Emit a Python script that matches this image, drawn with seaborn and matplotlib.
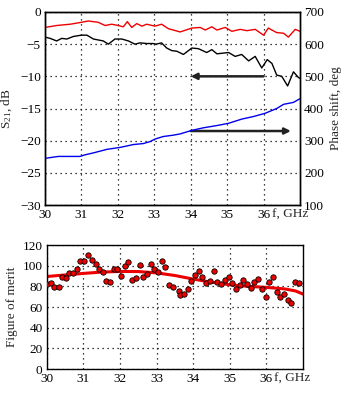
import numpy as np
import pandas as pd
import matplotlib
matplotlib.use("Agg")
import matplotlib.pyplot as plt
import matplotlib.transforms as mtransforms
import seaborn as sns

# Transmission (dB) of the two measured lines, left axis
f_red = [30.0, 30.32, 30.69, 31.0, 31.19, 31.46, 31.65, 31.83, 32.01, 32.15, 32.26, 32.38,
         32.52, 32.66, 32.79, 33.02, 33.2, 33.39, 33.52, 33.71, 34.03, 34.26, 34.4, 34.58,
         34.72, 34.95, 35.13, 35.36, 35.54, 35.77, 36.0, 36.13, 36.36, 36.55, 36.68, 36.87, 37.0]
s_red = [-2.4, -2.1, -1.9, -1.6, -1.4, -1.6, -2.1, -1.9, -2.1, -2.3, -1.5, -2.4,
         -1.8, -2.2, -1.9, -2.2, -1.9, -2.6, -2.8, -3.1, -2.5, -2.4, -2.8, -2.3,
         -2.8, -2.4, -3.0, -2.7, -2.9, -2.7, -3.6, -2.5, -3.2, -3.3, -3.9, -2.7, -3.0]

f_black = [30.0, 30.14, 30.32, 30.46, 30.6, 30.78, 31.0, 31.15, 31.33, 31.6, 31.74, 31.92,
           32.11, 32.29, 32.47, 32.61, 32.79, 32.97, 33.05, 33.2, 33.34, 33.48, 33.62, 33.8,
           34.03, 34.21, 34.44, 34.58, 34.72, 35.04, 35.22, 35.4, 35.59, 35.77, 35.95, 36.1,
           36.23, 36.36, 36.5, 36.66, 36.82, 36.96, 37.0]
s_black = [-3.9, -4.1, -4.5, -4.1, -4.2, -3.8, -3.6, -3.6, -4.2, -4.5, -5.0, -4.2,
           -4.2, -4.5, -5.0, -4.8, -4.9, -4.9, -5.0, -4.8, -5.6, -6.0, -6.1, -6.6,
           -5.6, -5.7, -6.3, -5.85, -6.5, -6.3, -6.9, -6.6, -7.6, -6.9, -8.7, -7.4,
           -8.0, -9.8, -10.0, -11.5, -9.3, -10.2, -10.3]

# Phase shift (deg), right axis
f_phase = [30.0, 30.18, 30.37, 30.96, 31.1, 31.33, 31.7, 32.06, 32.43, 32.7, 32.88, 33.02,
           33.25, 33.52, 33.71, 34.03, 34.35, 34.72, 35.04, 35.4, 35.72, 36.04, 36.36, 36.55,
           36.82, 36.96, 37.0]
phase = [245, 248, 251, 251, 256, 262, 273, 279, 288, 291, 297, 305,
         313, 317, 321, 332, 340, 347, 354, 367, 375, 385, 400, 413,
         419, 428, 430]

# Figure of merit: measured points and smoothed trend
f_fom = [30.02, 30.11, 30.21, 30.33, 30.42, 30.53, 30.62, 30.72, 30.83, 30.92, 31.02, 31.13,
         31.23, 31.34, 31.43, 31.53, 31.62, 31.73, 31.84, 31.92, 32.04, 32.13, 32.23, 32.33,
         32.44, 32.54, 32.63, 32.74, 32.85, 32.93, 33.04, 33.15, 33.24, 33.34, 33.45, 33.6,
         33.65, 33.75, 33.86, 33.95, 34.06, 34.16, 34.25, 34.36, 34.47, 34.57, 34.66, 34.77,
         34.86, 34.97, 35.07, 35.17, 35.27, 35.36, 35.47, 35.57, 35.67, 35.77, 35.88, 35.98,
         36.08, 36.17, 36.28, 36.38, 36.47, 36.58, 36.68, 36.78, 36.88]
fom = [82.3, 83.5, 79.7, 79.7, 88.8, 87.8, 93.2, 93.2, 96.5, 104.8, 104.8, 110.6,
       105.5, 101.6, 96.5, 94.2, 85.5, 83.9, 96.5, 96.8, 90.0, 99.7, 103.3, 85.9,
       88.1, 100.7, 89.4, 92.0, 101.4, 96.5, 93.6, 104.5, 99.0, 81.3, 79.0, 75.8,
       71.6, 72.6, 77.7, 85.5, 91.0, 94.9, 88.8, 83.0, 84.9, 95.2, 83.9, 82.3,
       86.2, 89.4, 83.5, 77.7, 81.3, 86.2, 82.3, 78.4, 84.2, 87.4, 77.2, 70.0,
       83.9, 88.8, 74.8, 70.0, 72.9, 66.8, 63.6, 84.2, 83.0]
f_trend = [30.0, 30.5, 31.0, 31.5, 32.0, 32.5, 33.0, 33.5, 34.0, 34.5, 35.0, 35.5,
           36.0, 36.5, 36.8, 37.0]
trend = [89.5, 91.0, 92.5, 93.8, 94.4, 94.3, 93.0, 90.5, 87.0, 84.0, 81.5, 80.0,
         79.0, 77.5, 75.5, 72.5]

x_ticks = [30, 31, 32, 33, 34, 35, 36]

sns.set_style("ticks")
plt.rcParams["font.family"] = ["Liberation Serif", "DejaVu Serif"]
plt.rcParams["mathtext.fontset"] = "custom"
plt.rcParams["mathtext.rm"] = "Liberation Serif"
plt.rcParams["mathtext.it"] = "Liberation Serif:italic"
plt.rcParams["font.size"] = 9.5

fig = plt.figure(figsize=(3.49, 3.95), dpi=100)
W, H = 349, 395
ax1 = fig.add_axes([45 / W, 1 - 205 / H, 255 / W, 193 / H])
ax2 = ax1.twinx()
ax3 = fig.add_axes([46.7 / W, 1 - 369 / H, 256.3 / W, 124 / H])

grid_kw = dict(color="black", linestyle=(0, (1, 3)), linewidth=0.9)

def style_axes(ax):
    for sp in ax.spines.values():
        sp.set_color("black")
        sp.set_linewidth(1.0)
    ax.tick_params(length=0, pad=3, labelsize=9.5, colors="black")

def unit_label(ax, x, y):
    # frequency unit written just after the last tick label, below the axis
    shift = mtransforms.ScaledTranslation(0, -3 / 72, fig.dpi_scale_trans)
    ax.text(x, y, "f, GHz", ha="left", va="top", fontsize=9.5,
            transform=ax.transData + shift, clip_on=False)

# --- upper panel ---
sns.lineplot(x=f_red, y=s_red, ax=ax1, color="#ee0000", linewidth=1.0, sort=False)
sns.lineplot(x=f_black, y=s_black, ax=ax1, color="black", linewidth=1.0, sort=False)
sns.lineplot(x=f_phase, y=phase, ax=ax2, color="#0000ee", linewidth=1.0, sort=False)
ax1.set_xlim(30, 37)
ax1.set_ylim(-30, 0)
ax2.set_ylim(100, 700)
ax1.set_xticks(x_ticks)
ax1.set_yticks([0, -5, -10, -15, -20, -25, -30])
ax2.set_yticks([100, 200, 300, 400, 500, 600, 700])
ax1.grid(True, **grid_kw)
ax1.set_ylabel(r"S$_{21}$, dB", labelpad=4)
ax2.set_ylabel("Phase shift, deg", labelpad=4)
ax1.set_xlabel("")
style_axes(ax1)
style_axes(ax2)
unit_label(ax1, 36.22, -30)

arrow_kw = dict(arrowstyle="-|>", color="#222222", lw=1.8, mutation_scale=9,
                shrinkA=0, shrinkB=0)
ax1.annotate("", xy=(34.0, -10.0), xytext=(36.0, -10.0), arrowprops=arrow_kw)
ax1.annotate("", xy=(36.75, -18.5), xytext=(34.0, -18.5), arrowprops=arrow_kw)

# --- lower panel ---
sns.lineplot(x=f_trend, y=trend, ax=ax3, color="#ee0000", linewidth=2.2, sort=False)
sns.scatterplot(x=f_fom, y=fom, ax=ax3, color="#ee0000", edgecolor="black",
                linewidth=0.6, s=15, zorder=3)
ax3.set_xlim(30, 37)
ax3.set_ylim(0, 120)
ax3.set_xticks(x_ticks)
ax3.set_yticks([0, 20, 40, 60, 80, 100, 120])
ax3.grid(True, **grid_kw)
ax3.set_ylabel("Figure of merit", labelpad=3)
style_axes(ax3)
unit_label(ax3, 36.22, 0)

fig.savefig("out.png", dpi=100)
